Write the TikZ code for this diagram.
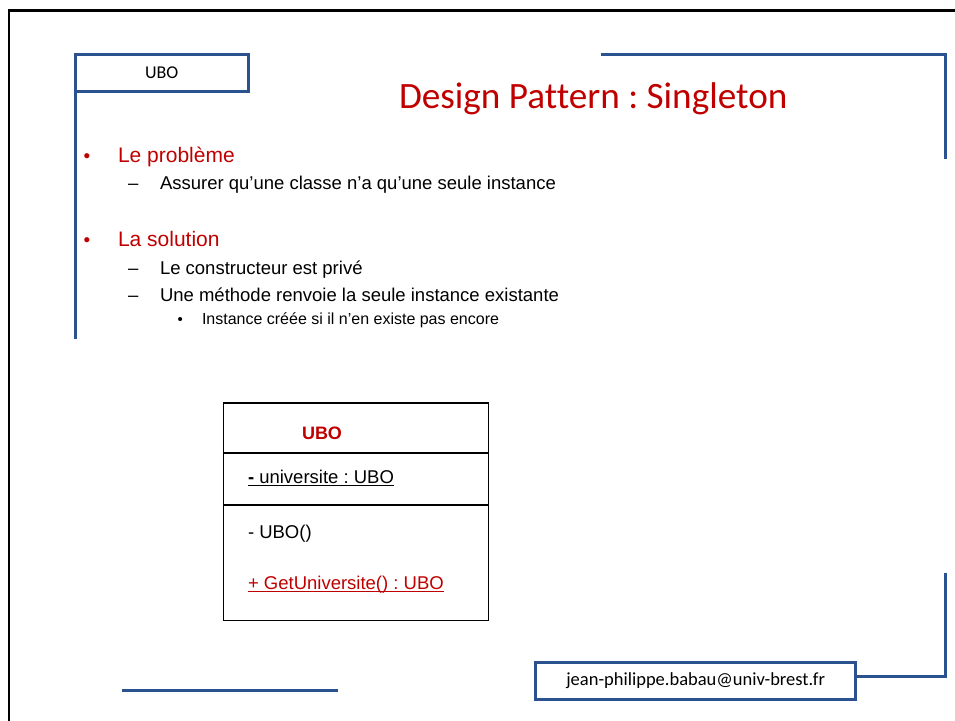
\documentclass[tikz,border=0pt]{standalone}
\usepackage{fontspec}
\setmainfont{Liberation Sans}
\newfontfamily\slidefont[Ligatures=NoCommon]{Carlito}
\definecolor{frameblue}{RGB}{41,82,142}
\definecolor{slidered}{RGB}{192,0,0}
\newcommand{\fs}[1]{\fontsize{#1}{#1}\selectfont}
\frenchspacing
\tikzset{
  blueline/.style={draw=frameblue, line width=3pt},
  bluebox/.style={draw=frameblue, line width=3pt, fill=white, inner sep=0pt},
  txt/.style={anchor=base west, inner sep=0pt, outer sep=0pt},
  classbox/.style={draw=black, line width=1.2pt},
  underl/.style={line width=1.2pt},
}
\begin{document}
\begin{tikzpicture}[x=1pt, y=-1pt]
  \useasboundingbox (0,0) rectangle (955,720);
  \fill[white] (0,0) rectangle (955,720);

  % slide frame
  \coordinate (fbl) at (9,725);
  \coordinate (ftl) at (9,10.5);
  \coordinate (ftr) at (960,10.5);
  \draw[line width=2.4pt] (fbl) -- (ftl) -- (ftr);

  % header box and left rule
  \coordinate (lrTop) at (75,77);
  \coordinate (lrBot) at (75,339);
  \draw[blueline] (lrTop) -- (lrBot);
  \node[bluebox, minimum width=173, minimum height=37.5] (hdr) at (161.7,73)
    {\slidefont\fs{18}UBO};

  % top right corner rule
  \coordinate (trA) at (600.5,54.3);
  \coordinate (trB) at (945.5,54.3);
  \coordinate (trC) at (945.5,159);
  \draw[blueline] (trA) -- (trB) -- (trC);

  % bottom right corner rule and footer box
  \node[bluebox, minimum width=320, minimum height=37] (mail) at (695.7,680.8)
    {\slidefont\fs{18.5}jean-philippe.babau@univ-brest.fr};
  \coordinate (brA) at (945.5,572.5);
  \coordinate (brB) at (945.5,676.7);
  \draw[blueline] (brA) -- (brB) -- (mail.east |- brB);

  % bottom left rule
  \coordinate (blA) at (121.7,690);
  \coordinate (blB) at (337.7,690);
  \draw[blueline] (blA) -- (blB);

  % title
  \node[txt, text=slidered] (title) at (399,108)
    {\slidefont\fs{37.2}Design Pattern : Singleton};

  % bullet list
  \node[txt, text=slidered] (b1dot) at (83.5,162.7) {\fs{19}\textbullet};
  \node[txt, text=slidered] (b1) at (118,162.7) {\fs{21}Le problème};
  \node[txt] (b1adash) at (128,189.5) {\fs{18.5}–};
  \node[txt] (b1a) at (160,189.5) {\fs{18.5}Assurer qu’une classe n’a qu’une seule instance};

  \node[txt, text=slidered] (b2dot) at (83.5,246.7) {\fs{19}\textbullet};
  \node[txt, text=slidered] (b2) at (118,246.7) {\fs{21}La solution};
  \node[txt] (b2adash) at (128,274.3) {\fs{18.5}–};
  \node[txt] (b2a) at (160,274.3) {\fs{18.5}Le constructeur est privé};
  \node[txt] (b2bdash) at (128,301.7) {\fs{18.5}–};
  \node[txt] (b2b) at (160,301.7) {\fs{18.5}Une méthode renvoie la seule instance existante};
  \node[txt] (b2b1dot) at (177.5,324.3) {\fs{15}\textbullet};
  \node[txt] (b2b1) at (202,324.3) {\fs{16}Instance créée si il n’en existe pas encore};

  % UML class
  \node[classbox, minimum width=265, minimum height=217.7, anchor=north west] (cls) at (222.7,402.3) {};
  \coordinate (sep1) at (222.7,452.7);
  \coordinate (sep2) at (222.7,505);
  \draw[line width=1.6pt] (sep1) -- (sep1 -| cls.east);
  \draw[line width=1.6pt] (sep2) -- (sep2 -| cls.east);
  \node[txt, text=slidered] (clsname) at (302,439) {\fs{18}\bfseries UBO};
  \node[txt] (attr) at (248,483.3) {\fs{18.5}{\bfseries -} universite : UBO};
  \draw[underl] ([yshift=-2.5pt]attr.base west) -- ([yshift=-2.5pt]attr.base east);
  \node[txt] (ctor) at (248,538.3) {\fs{18.5}- UBO()};
  \node[txt, text=slidered] (getter) at (248,589) {\fs{18.5}+ GetUniversite() : UBO};
  \draw[underl, slidered] ([yshift=-2.5pt]getter.base west) -- ([yshift=-2.5pt]getter.base east);
\end{tikzpicture}
\end{document}
